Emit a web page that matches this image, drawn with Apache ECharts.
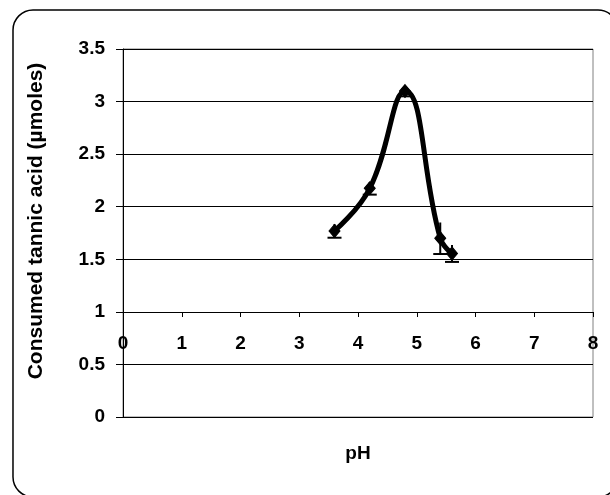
<!DOCTYPE html>
<html>
<head>
<meta charset="utf-8">
<script src="https://cdn.jsdelivr.net/npm/echarts@6/dist/echarts.min.js"></script>
<style>html,body{margin:0;padding:0;background:#fff}#c{width:610px;height:495px}</style>
</head>
<body>
<div id="c"></div>
<script>
const phValues = [3.6, 4.2, 4.8, 5.4, 5.6];
const consumed = [1.77, 2.175, 3.1, 1.70, 1.555];
const errors = [0.065, 0.06, 0.05, 0.15, 0.08];
const xTitle = 'pH';
const yTitle = 'Consumed tannic acid (µmoles)';

const FONT = '"Liberation Sans", Arial, sans-serif';
const chart = echarts.init(document.getElementById('c'), null, {renderer: 'canvas'});

const points = phValues.map((x, i) => [x, consumed[i]]);
const errData = phValues.map((x, i) => [x, consumed[i] - errors[i], consumed[i] + errors[i]]);

chart.setOption({
  animation: false,
  backgroundColor: '#fff',
  grid: {left: 123, right: 17, top: 49, bottom: 78, show: true, borderColor: '#808080', borderWidth: 1, backgroundColor: 'transparent'},
  xAxis: {
    type: 'value', min: 0, max: 8, interval: 1,
    position: 'bottom', offset: -105,
    axisLine: {onZero: false, lineStyle: {color: '#000', width: 1}},
    axisTick: {show: true, length: 5, inside: false, lineStyle: {color: '#000'}},
    axisLabel: {margin: 22, color: '#000', fontFamily: FONT, fontWeight: 'bold', fontSize: 19},
    splitLine: {show: false},
    name: xTitle, nameLocation: 'middle', nameGap: 132,
    nameTextStyle: {color: '#000', fontFamily: FONT, fontWeight: 'bold', fontSize: 19}
  },
  yAxis: {
    type: 'value', min: 0, max: 3.5, interval: 0.5,
    axisLine: {show: true, lineStyle: {color: '#000', width: 1}},
    axisTick: {show: true, length: 7, lineStyle: {color: '#000'}},
    axisLabel: {margin: 18, color: '#000', fontFamily: FONT, fontWeight: 'bold', fontSize: 19},
    splitLine: {show: true, lineStyle: {color: '#000', width: 1}}
  },
  graphic: [
    {type: 'rect', shape: {x: 13, y: 10, width: 605, height: 487, r: 20}, style: {fill: 'none', stroke: '#000', lineWidth: 1.5}, silent: true},
    {type: 'text', x: 36, y: 221, rotation: Math.PI / 2, style: {text: yTitle, fill: '#000', font: 'bold 21px ' + FONT, textAlign: 'center', textVerticalAlign: 'middle'}}
  ],
  series: [
    {
      type: 'custom', z: 2,
      data: errData,
      renderItem: function (params, api) {
        const x = api.value(0);
        const lo = api.coord([x, api.value(1)]);
        const hi = api.coord([x, api.value(2)]);
        const w = 7;
        const style = {stroke: '#000', lineWidth: 2};
        return {type: 'group', children: [
          {type: 'line', shape: {x1: lo[0], y1: lo[1], x2: hi[0], y2: hi[1]}, style: style},
          {type: 'line', shape: {x1: lo[0] - w, y1: lo[1], x2: lo[0] + w, y2: lo[1]}, style: style}
        ]};
      }
    },
    {
      type: 'line', z: 3,
      data: points,
      smooth: 0.45,
      symbol: 'diamond', symbolSize: [11, 13],
      lineStyle: {color: '#000', width: 5},
      itemStyle: {color: '#000', borderColor: '#000'}
    }
  ]
});
</script>
</body>
</html>
